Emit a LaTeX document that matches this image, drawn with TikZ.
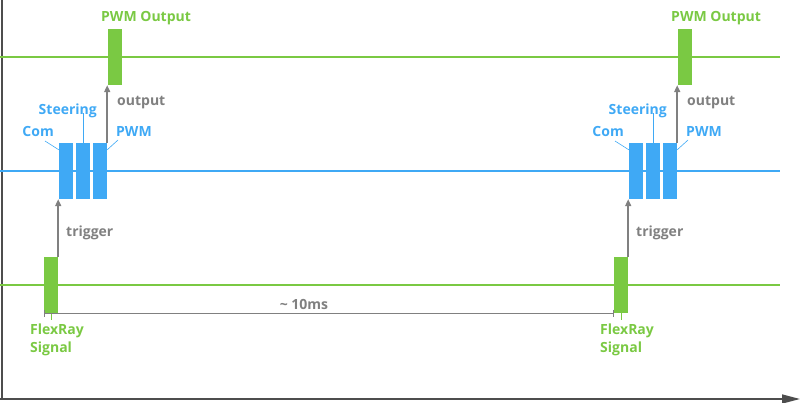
\documentclass[tikz,border=0pt]{standalone}
\usepackage{fontspec}
\setmainfont{Open Sans}
\usetikzlibrary{arrows.meta,positioning}
\definecolor{sgreen}{HTML}{7AC943}
\definecolor{sblue}{HTML}{3FA9F5}
\definecolor{sgray}{HTML}{808080}
\definecolor{axgray}{HTML}{4D4D4D}
\tikzset{
  lbl/.style={font=\bfseries\fontsize{14}{18}\selectfont, inner sep=0pt},
  gbox/.style={fill=sgreen, minimum width=14pt, minimum height=56pt, inner sep=0pt},
  bbox/.style={fill=sblue, minimum width=14pt, minimum height=56pt, inner sep=0pt},
  trig/.style={sgray, line width=1.6pt, -{Triangle[length=7pt,width=6pt]}}
}
\begin{document}
\begin{tikzpicture}[x=1pt,y=-1pt]
  \useasboundingbox (0,0) rectangle (800,403);
  % axes
  \draw[axgray, line width=2pt] (2,0) -- (2,399);
  \draw[axgray, line width=1.5pt, -{Triangle[length=18pt,width=9pt]}] (0,399) -- (800,399);
  % signal lines
  \draw[sgreen, line width=1.5pt] (0,57) -- (780,57);
  \draw[sblue, line width=1.5pt] (0,171) -- (780,171);
  \draw[sgreen, line width=1.5pt] (0,285) -- (780,285);
  \foreach \i/\dx in {1/0,2/570}{
    \node[gbox] (fr\i) at (51+\dx,285) {};
    \node[bbox] (com\i) at (66+\dx,171) {};
    \node[bbox] (str\i) at (83+\dx,171) {};
    \node[bbox] (pw\i) at (100+\dx,171) {};
    \node[gbox] (out\i) at (115+\dx,57) {};
    \draw[trig] (fr\i.north east) -- (fr\i.north east |- com\i.south);
    \draw[trig] (pw\i.north east) -- (pw\i.north east |- out\i.south);
    \node[lbl, text=sgray, anchor=west] (tl\i) at (66+\dx,233) {trigger};
    \node[lbl, text=sgray, anchor=west] (ol\i) at (117+\dx,103) {output};
    \node[lbl, text=sgreen, anchor=west] (pl\i) at (101+\dx,18) {PWM Output};
    \node[lbl, text=sblue, anchor=east] (cl\i) at (54+\dx,132) {Com};
    \node[lbl, text=sblue, anchor=east] (sl\i) at (97+\dx,111) {Steering};
    \node[lbl, text=sblue, anchor=west] (wl\i) at (116+\dx,132) {PWM};
    \draw[sblue, line width=0.6pt] (45+\dx,141) -- ([yshift=-7pt]com\i.north west);
    \draw[sblue, line width=0.6pt] (str\i.north) -- ++(0,-30);
    \draw[sblue, line width=0.6pt] ([yshift=-7pt]pw\i.north east) -- (118+\dx,140);
    \node[lbl, text=sgreen, anchor=north west, align=left] (fl\i) at (30+\dx,324) {FlexRay\\Signal};
    \draw[sgreen, line width=0.6pt] (fr\i.south) -- ++(0,7);
  }
  % period
  \draw[sgray, line width=1.2pt, {Bar[width=7pt]}-{Bar[width=7pt]}] (fr1.south west) -- (fr2.south west);
  \node[lbl, text=sgray] (per) at (304,304) {\textasciitilde{} 10ms};
\end{tikzpicture}
\end{document}
